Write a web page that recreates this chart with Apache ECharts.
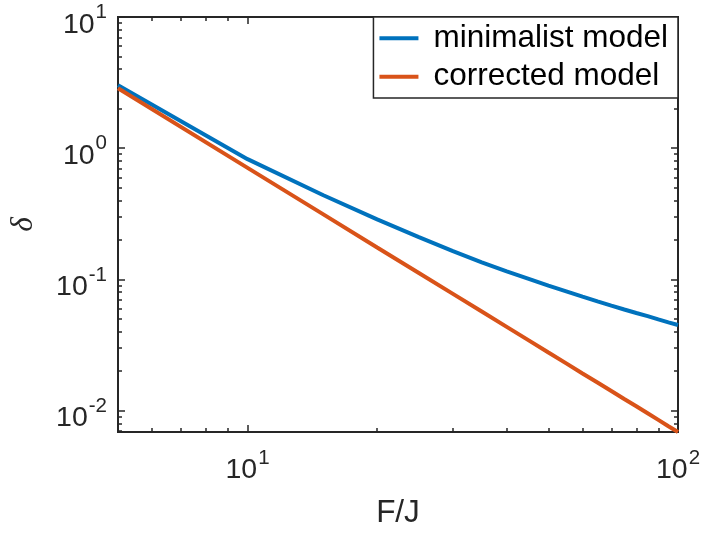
<!DOCTYPE html>
<html>
<head>
<meta charset="utf-8">
<script src="https://cdn.jsdelivr.net/npm/echarts@6/dist/echarts.min.js"></script>
<style>html,body{margin:0;padding:0;background:#fff;}#c{width:704px;height:534px;}</style>
</head>
<body>
<div id="c"></div>
<script>
// ---- data ----
const F = [5, 10, 15, 20, 25, 30, 35, 40, 45, 50, 55, 60, 65, 70, 75, 80, 85, 90, 95, 100];
const minimalist = [3.02, 0.825, 0.438, 0.287, 0.210, 0.164, 0.135, 0.1153, 0.1011, 0.0898,
                    0.0811, 0.0739, 0.0681, 0.0632, 0.0590, 0.0555, 0.0525, 0.0496, 0.0471, 0.0449];
const corrected  = [2.86, 0.708, 0.313, 0.175, 0.112, 0.0776, 0.0569, 0.0435, 0.0343, 0.0277,
                    0.0229, 0.0192, 0.01637, 0.0141, 0.01227, 0.0108, 0.00955, 0.0085, 0.0076, 0.00687];
const seriesNames = ['minimalist model', 'corrected model'];
const xMin = 5, xMax = 100;
const yMin = 0.00687, yMax = 10;
const xTickMajor = [10, 100];
const xTickMinor = [6, 7, 8, 9, 20, 30, 40, 50, 60, 70, 80, 90];
const yTickMajor = [0.01, 0.1, 1, 10];
const yTickMinor = [0.007, 0.008, 0.009, 0.02, 0.03, 0.04, 0.05, 0.06, 0.07, 0.08, 0.09,
                    0.2, 0.3, 0.4, 0.5, 0.6, 0.7, 0.8, 0.9, 2, 3, 4, 5, 6, 7, 8, 9];
const xLabel = 'F/J';
const yLabel = 'δ';

// ---- styling ----
const axisColor = '#262626';
const lineW = 2;
const rich = {
  b: { fontSize: 28.5, fontFamily: 'Liberation Sans', color: axisColor, padding: [16, 0, 0, 0] },
  s: { fontSize: 20.5, fontFamily: 'Liberation Sans', color: axisColor, padding: [0, 0, 9, 1] }
};
function powFmt(v) {
  const e = Math.round(Math.log10(v));
  return '{b|10}{s|' + e + '}';
}
function mkAxis(dim, pos, ticks, len, labels) {
  const isX = dim === 'x';
  return {
    type: 'log',
    logBase: 10,
    min: isX ? xMin : yMin,
    max: isX ? xMax : yMax,
    position: pos,
    axisLine: { show: true, onZero: false, lineStyle: { color: axisColor, width: lineW } },
    axisTick: { show: true, inside: true, length: len, customValues: ticks,
                lineStyle: { color: axisColor, width: 1.5 } },
    axisLabel: labels ? {
      show: true, customValues: ticks, formatter: powFmt, rich: rich,
      margin: isX ? 8 : 11
    } : { show: false },
    splitLine: { show: false },
    minorTick: { show: false },
    silent: true
  };
}
const xAxes = [
  mkAxis('x', 'bottom', xTickMajor, 7, true),
  mkAxis('x', 'bottom', xTickMinor, 4, false),
  mkAxis('x', 'top', xTickMajor, 7, false),
  mkAxis('x', 'top', xTickMinor, 4, false)
];
Object.assign(xAxes[0], {
  name: xLabel, nameLocation: 'middle', nameGap: 65,
  nameTextStyle: { fontSize: 31.5, fontFamily: 'Liberation Sans', color: axisColor }
});
const yAxes = [
  mkAxis('y', 'left', yTickMajor, 7, true),
  mkAxis('y', 'left', yTickMinor, 4, false),
  mkAxis('y', 'right', yTickMajor, 7, false),
  mkAxis('y', 'right', yTickMinor, 4, false)
];
Object.assign(yAxes[0], {
  name: yLabel, nameLocation: 'middle', nameGap: 78, nameRotate: 90,
  nameTextStyle: { fontSize: 31.5, fontFamily: 'Liberation Serif', fontStyle: 'italic', color: axisColor }
});

const chart = echarts.init(document.getElementById('c'), null, { renderer: 'canvas' });
chart.setOption({
  animation: false,
  backgroundColor: '#fff',
  grid: { left: 117, right: 26, top: 17, bottom: 99, containLabel: false },
  xAxis: xAxes,
  yAxis: yAxes,
  legend: {
    data: seriesNames,
    orient: 'vertical', right: 26, top: 17,
    icon: 'rect', itemWidth: 39, itemHeight: 4, itemGap: 0,
    padding: [2, 10, 2, 6],
    backgroundColor: '#fff', borderColor: axisColor, borderWidth: 1.5,
    textStyle: { fontSize: 31.5, fontFamily: 'Liberation Sans', color: '#000', lineHeight: 38.5, padding: [0, 0, 0, 10] }
  },
  series: [
    { name: seriesNames[0], type: 'line', showSymbol: false, symbol: 'none',
      color: '#0072BD', lineStyle: { width: 4, color: '#0072BD' },
      data: F.map((f, i) => [f, minimalist[i]]) },
    { name: seriesNames[1], type: 'line', showSymbol: false, symbol: 'none',
      color: '#D95319', lineStyle: { width: 4, color: '#D95319' },
      data: F.map((f, i) => [f, corrected[i]]) }
  ]
});
</script>
</body>
</html>
